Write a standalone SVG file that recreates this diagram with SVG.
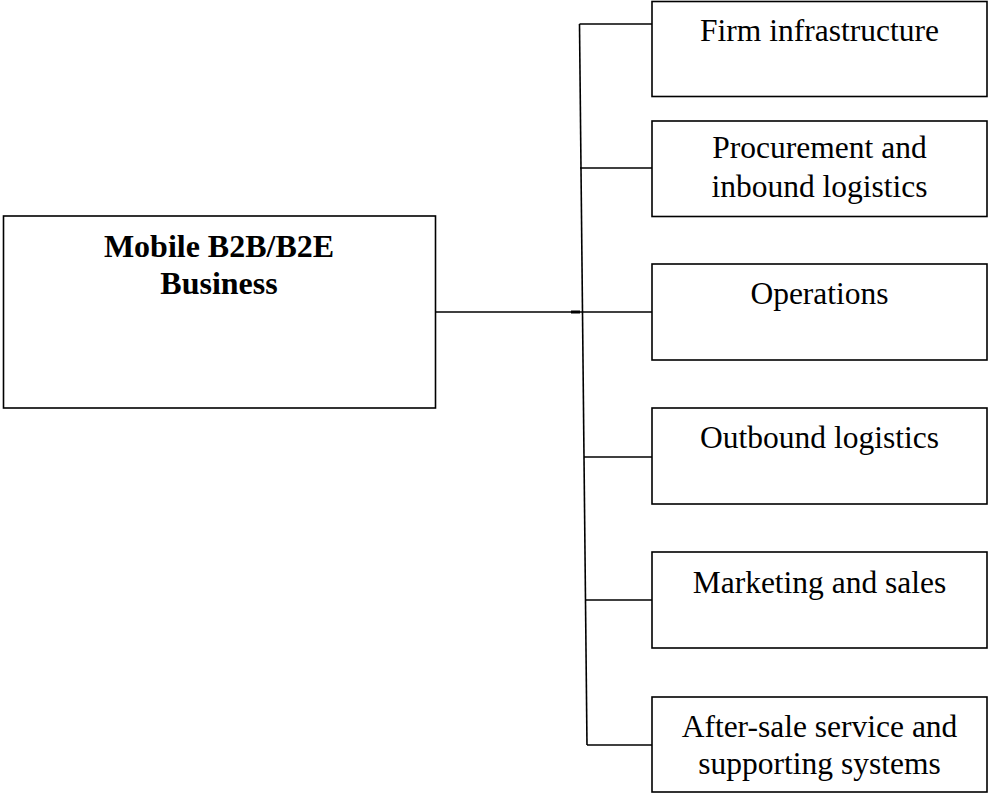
<svg xmlns="http://www.w3.org/2000/svg" width="988" height="794" viewBox="0 0 988 794">
<style>
.box{fill:#fff;stroke:#000;stroke-width:1.6}
.ln{fill:none;stroke:#000;stroke-width:1.6}
.t{font-family:"Liberation Serif","Times New Roman",serif;font-size:31.5px;fill:#000;text-anchor:middle}
.b{font-weight:bold;font-size:32px}
</style>
<rect width="988" height="794" fill="#fff"/>
<g id="connectors">
<line class="ln" x1="579.5" y1="24" x2="587" y2="745"/>
<line class="ln" x1="579.5" y1="24" x2="652" y2="24"/>
<line class="ln" x1="580" y1="168" x2="652" y2="168"/>
<line class="ln" x1="435" y1="312" x2="652" y2="312"/>
<line x1="571" y1="312" x2="580" y2="312" stroke="#000" stroke-width="3"/>
<line class="ln" x1="584" y1="457" x2="652" y2="457"/>
<line class="ln" x1="585.5" y1="600" x2="652" y2="600"/>
<line class="ln" x1="587" y1="745" x2="652" y2="745"/>
</g>
<g id="main">
<rect class="box" x="3.5" y="216" width="432" height="192"/>
<text class="t b" x="219" y="257">Mobile B2B/B2E</text>
<text class="t b" x="219" y="293.5">Business</text>
</g>
<g id="firm">
<rect class="box" x="652" y="1.5" width="335" height="95"/>
<text class="t" x="819.5" y="41">Firm infrastructure</text>
</g>
<g id="procurement">
<rect class="box" x="652" y="121" width="335" height="95.5"/>
<text class="t" x="819.5" y="158">Procurement and</text>
<text class="t" x="819.5" y="196.5">inbound logistics</text>
</g>
<g id="operations">
<rect class="box" x="652" y="264" width="335" height="96"/>
<text class="t" x="819.5" y="304">Operations</text>
</g>
<g id="outbound">
<rect class="box" x="652" y="408" width="335" height="96"/>
<text class="t" x="819.5" y="448">Outbound logistics</text>
</g>
<g id="marketing">
<rect class="box" x="652" y="552" width="335" height="96"/>
<text class="t" x="819.5" y="593">Marketing and sales</text>
</g>
<g id="aftersale">
<rect class="box" x="652" y="697" width="335" height="95"/>
<text class="t" x="819.5" y="737">After-sale service and</text>
<text class="t" x="819.5" y="774">supporting systems</text>
</g>
</svg>
